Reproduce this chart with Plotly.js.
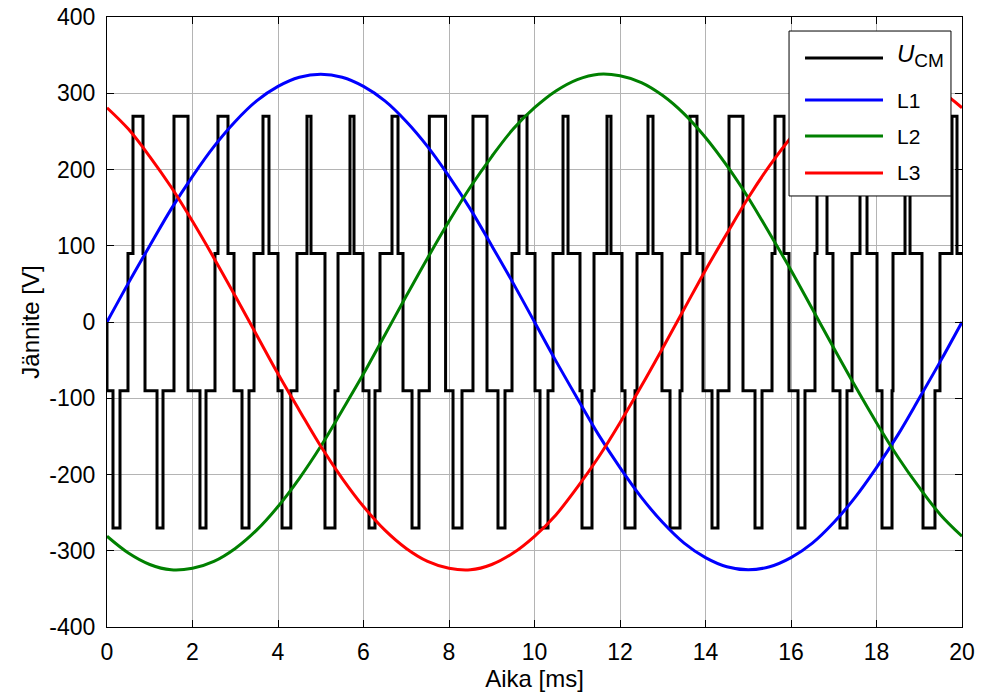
<!DOCTYPE html>
<html>
<head>
<meta charset="utf-8">
<script src="https://cdn.plot.ly/plotly-3.0.1.min.js"></script>
<style>html,body{margin:0;padding:0;background:#fff;}#chart{width:983px;height:696px;}</style>
</head>
<body>
<div id="chart"></div>
<script>
// Sampling times of the phase voltages (ms)
const phaseTime = [0,0.5,1,1.5,2,2.5,3,3.5,4,4.5,5,5.5,6,6.5,7,7.5,8,8.5,9,9.5,10,10.5,11,11.5,12,12.5,13,13.5,14,14.5,15,15.5,16,16.5,17,17.5,18,18.5,19,19.5,20];
// Phase voltages (V)
const L1 = [0,51,100,148,191,230,263,290,309,321,325,321,309,290,263,230,191,148,100,51,0,-51,-100,-148,-191,-230,-263,-290,-309,-321,-325,-321,-309,-290,-263,-230,-191,-148,-100,-51,0];
const L2 = [-281,-303,-318,-325,-323,-314,-297,-273,-242,-205,-163,-116,-68,-17,34,84,132,177,217,253,281,303,318,325,323,314,297,273,242,205,163,116,68,17,-34,-84,-132,-177,-217,-253,-281];
const L3 = [281,253,217,177,132,84,34,-17,-68,-116,-163,-205,-242,-273,-297,-314,-323,-325,-318,-303,-281,-253,-217,-177,-132,-84,-34,17,68,116,163,205,242,273,297,314,323,325,318,303,281];
// Common-mode voltage: switching instants (ms) and the level that starts there (V)
const ucmTime = [0,0,0.140,0.304,0.491,0.608,0.842,0.889,1.170,1.310,1.567,1.895,2.175,2.316,2.526,2.596,2.830,2.971,3.158,3.322,3.439,3.649,3.789,4.000,4.094,4.300,4.444,4.678,4.772,5.099,5.333,5.404,5.684,5.778,5.988,6.129,6.269,6.386,6.667,6.807,6.924,7.135,7.298,7.540,7.920,8.094,8.304,8.561,8.889,9.146,9.310,9.474,9.637,9.825,10.012,10.129,10.316,10.433,10.667,10.784,11.064,11.111,11.345,11.392,11.696,11.789,12.047,12.117,12.351,12.398,12.655,12.772,12.982,13.170,13.404,13.450,13.637,13.801,13.942,14.152,14.292,14.550,14.877,15.158,15.322,15.556,15.626,15.836,15.953,16.164,16.327,16.561,16.608,16.842,16.982,17.146,17.310,17.427,17.614,17.778,18.012,18.129,18.363,18.386,18.667,18.784,19.064,19.088,19.368,19.485,19.766,19.883,20.0];
const ucmVolt = [0,-90,-270,-90,90,270,90,-90,-270,-90,270,-90,-270,-90,90,270,90,-90,-270,-90,90,270,90,-90,-270,-90,90,270,90,-270,-90,90,270,90,-90,-270,-90,90,270,90,-90,-270,-90,270,-90,-270,-90,270,-90,-270,-90,90,270,90,-90,-270,-90,90,270,90,-90,-270,-90,90,270,90,-90,-270,-90,90,270,90,-90,-270,-90,90,270,90,-90,-270,-90,270,-90,-270,-90,90,270,90,-90,-270,-90,90,270,90,-90,-270,-90,90,270,90,-90,-270,-90,90,270,90,-90,-270,-90,90,270,90,90];
// Axis ticks
const xTicks = [0,2,4,6,8,10,12,14,16,18,20];
const yTicks = [-400,-300,-200,-100,0,100,200,300,400];
const seriesNames = ['<i>U</i><sub><span style="font-size:19px">CM</span></sub>','L1','L2','L3'];
const seriesColors = ['#000000','#0000ff','#008000','#ff0000'];

const FONT = 'Liberation Sans, Arial, Helvetica, sans-serif';

const traces = [
  {x: ucmTime, y: ucmVolt, mode: 'lines', line: {color: seriesColors[0], width: 3, shape: 'hv'}, name: 'UCM'},
  {x: phaseTime, y: L1, mode: 'lines', line: {color: seriesColors[1], width: 3, shape: 'spline'}, name: 'L1'},
  {x: phaseTime, y: L2, mode: 'lines', line: {color: seriesColors[2], width: 3, shape: 'spline'}, name: 'L2'},
  {x: phaseTime, y: L3, mode: 'lines', line: {color: seriesColors[3], width: 3, shape: 'spline'}, name: 'L3'}
];

// Custom MATLAB-style legend (paper coordinates)
const legX0 = 0.7977, legX1 = 0.9871, legY0 = 0.7066, legY1 = 0.9770;
const legRowY = [0.9328, 0.8639, 0.8049, 0.7443];
const shapes = [{type: 'rect', xref: 'paper', yref: 'paper', x0: legX0, x1: legX1, y0: legY0, y1: legY1,
  line: {color: '#000', width: 1}, fillcolor: '#fff', layer: 'above'}];
const annotations = [];
for (let i = 0; i < 4; i++) {
  shapes.push({type: 'line', xref: 'paper', yref: 'paper', x0: 0.8164, x1: 0.9076, y0: legRowY[i], y1: legRowY[i],
    line: {color: seriesColors[i], width: 3}, layer: 'above'});
  annotations.push({xref: 'paper', yref: 'paper', x: 0.9216, y: legRowY[i] + (i === 0 ? 0.004 : 0), xanchor: 'left', yanchor: 'middle',
    text: seriesNames[i], showarrow: false, font: {family: FONT, size: (i === 0 ? 24 : 21), color: '#000'}});
}

const layout = {
  width: 983, height: 696,
  margin: {l: 107, r: 21, t: 17, b: 69, pad: 0},
  paper_bgcolor: '#fff', plot_bgcolor: '#fff',
  showlegend: false,
  font: {family: FONT, size: 23, color: '#000'},
  xaxis: {
    range: [0, 20], tickvals: xTicks, ticktext: xTicks.map(String),
    showgrid: true, gridcolor: '#b4b4b4', gridwidth: 1,
    zeroline: false, showline: true, linecolor: '#000', linewidth: 1, mirror: 'ticks',
    ticks: 'inside', ticklen: 7, tickcolor: '#000', tickwidth: 1,
    tickfont: {family: FONT, size: 23}, ticklabelstandoff: 4,
    title: {text: 'Aika [ms]', font: {family: FONT, size: 24}, standoff: 4}
  },
  yaxis: {
    range: [-400, 400], tickvals: yTicks, ticktext: yTicks.map(String),
    showgrid: true, gridcolor: '#b4b4b4', gridwidth: 1,
    zeroline: false, showline: true, linecolor: '#000', linewidth: 1, mirror: 'ticks',
    ticks: 'inside', ticklen: 7, tickcolor: '#000', tickwidth: 1,
    tickfont: {family: FONT, size: 23}, ticklabelstandoff: 6,
    title: {text: 'Jännite [V]', font: {family: FONT, size: 24}, standoff: 2}
  },
  shapes: shapes,
  annotations: annotations
};

Plotly.newPlot('chart', traces, layout, {staticPlot: true, displayModeBar: false});
</script>
</body>
</html>
